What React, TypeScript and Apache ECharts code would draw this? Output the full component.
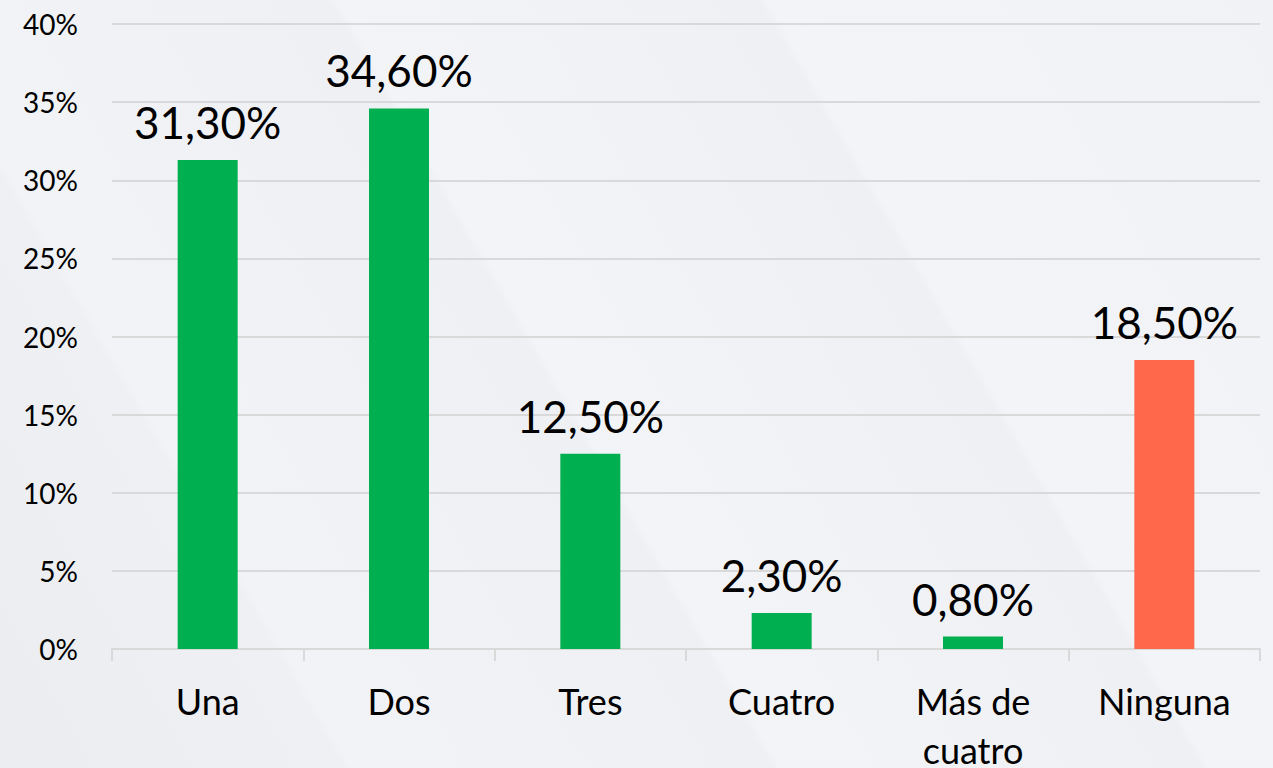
import React, { useEffect, useRef } from "react";
import * as echarts from "echarts";

const categories = ["Una", "Dos", "Tres", "Cuatro", "Más de\ncuatro", "Ninguna"];
const values = [31.3, 34.6, 12.5, 2.3, 0.8, 18.5];
const barColors = ["#00B050", "#00B050", "#00B050", "#00B050", "#00B050", "#FF684B"];
const yTicks = { min: 0, max: 40, interval: 5 };

export default function App() {
  const ref = useRef<HTMLDivElement>(null);
  useEffect(() => {
    if (!ref.current) return;
    const chart = echarts.init(ref.current, undefined, { renderer: "svg" });
    const font = "Lato, 'Noto Sans', sans-serif";
    chart.setOption({
      animation: false,
      backgroundColor: "transparent",
      grid: {
        left: 112,
        right: 13,
        top: 24,
        bottom: 119,
        containLabel: false,
        outerBoundsMode: "none",
      },
      xAxis: {
        type: "category",
        data: categories,
        axisLine: { lineStyle: { color: "#D9D9D9", width: 2 } },
        axisTick: { show: true, length: 12, lineStyle: { color: "#D9D9D9", width: 2 } },
        axisLabel: {
          color: "#000",
          fontSize: 36,
          fontFamily: font,
          margin: 27,
          lineHeight: 49,
          interval: 0,
        },
      },
      yAxis: {
        type: "value",
        min: yTicks.min,
        max: yTicks.max,
        interval: yTicks.interval,
        axisLine: { show: false },
        axisTick: { show: false },
        splitLine: { lineStyle: { color: "#D9D9D9", width: 2 } },
        axisLabel: {
          color: "#000",
          fontSize: 28,
          fontFamily: font,
          margin: 34,
          formatter: (v: number) => `${v}%`,
        },
      },
      series: [
        {
          type: "bar",
          data: values.map((v, i) => ({ value: v, itemStyle: { color: barColors[i] } })),
          barWidth: 60,
          label: {
            show: true,
            position: "top",
            distance: 16,
            color: "#000",
            fontSize: 44,
            fontFamily: font,
            formatter: (p: any) => p.value.toFixed(2).replace(".", ",") + "%",
          },
        },
      ],
    });
    return () => chart.dispose();
  }, []);
  return (
    <div
      style={{
        position: "fixed",
        left: 0,
        top: 0,
        width: 1273,
        height: 768,
        background:
          "linear-gradient(60deg, #ECEDF1 0%, #EFF0F4 20%, #F2F3F6 20.5%, #EFF0F4 45%, #F3F4F7 45.5%, #EFF0F4 70%, #F3F4F7 70.5%, #F1F2F5 100%)",
      }}
    >
      <div ref={ref} style={{ width: 1273, height: 768 }} />
    </div>
  );
}
